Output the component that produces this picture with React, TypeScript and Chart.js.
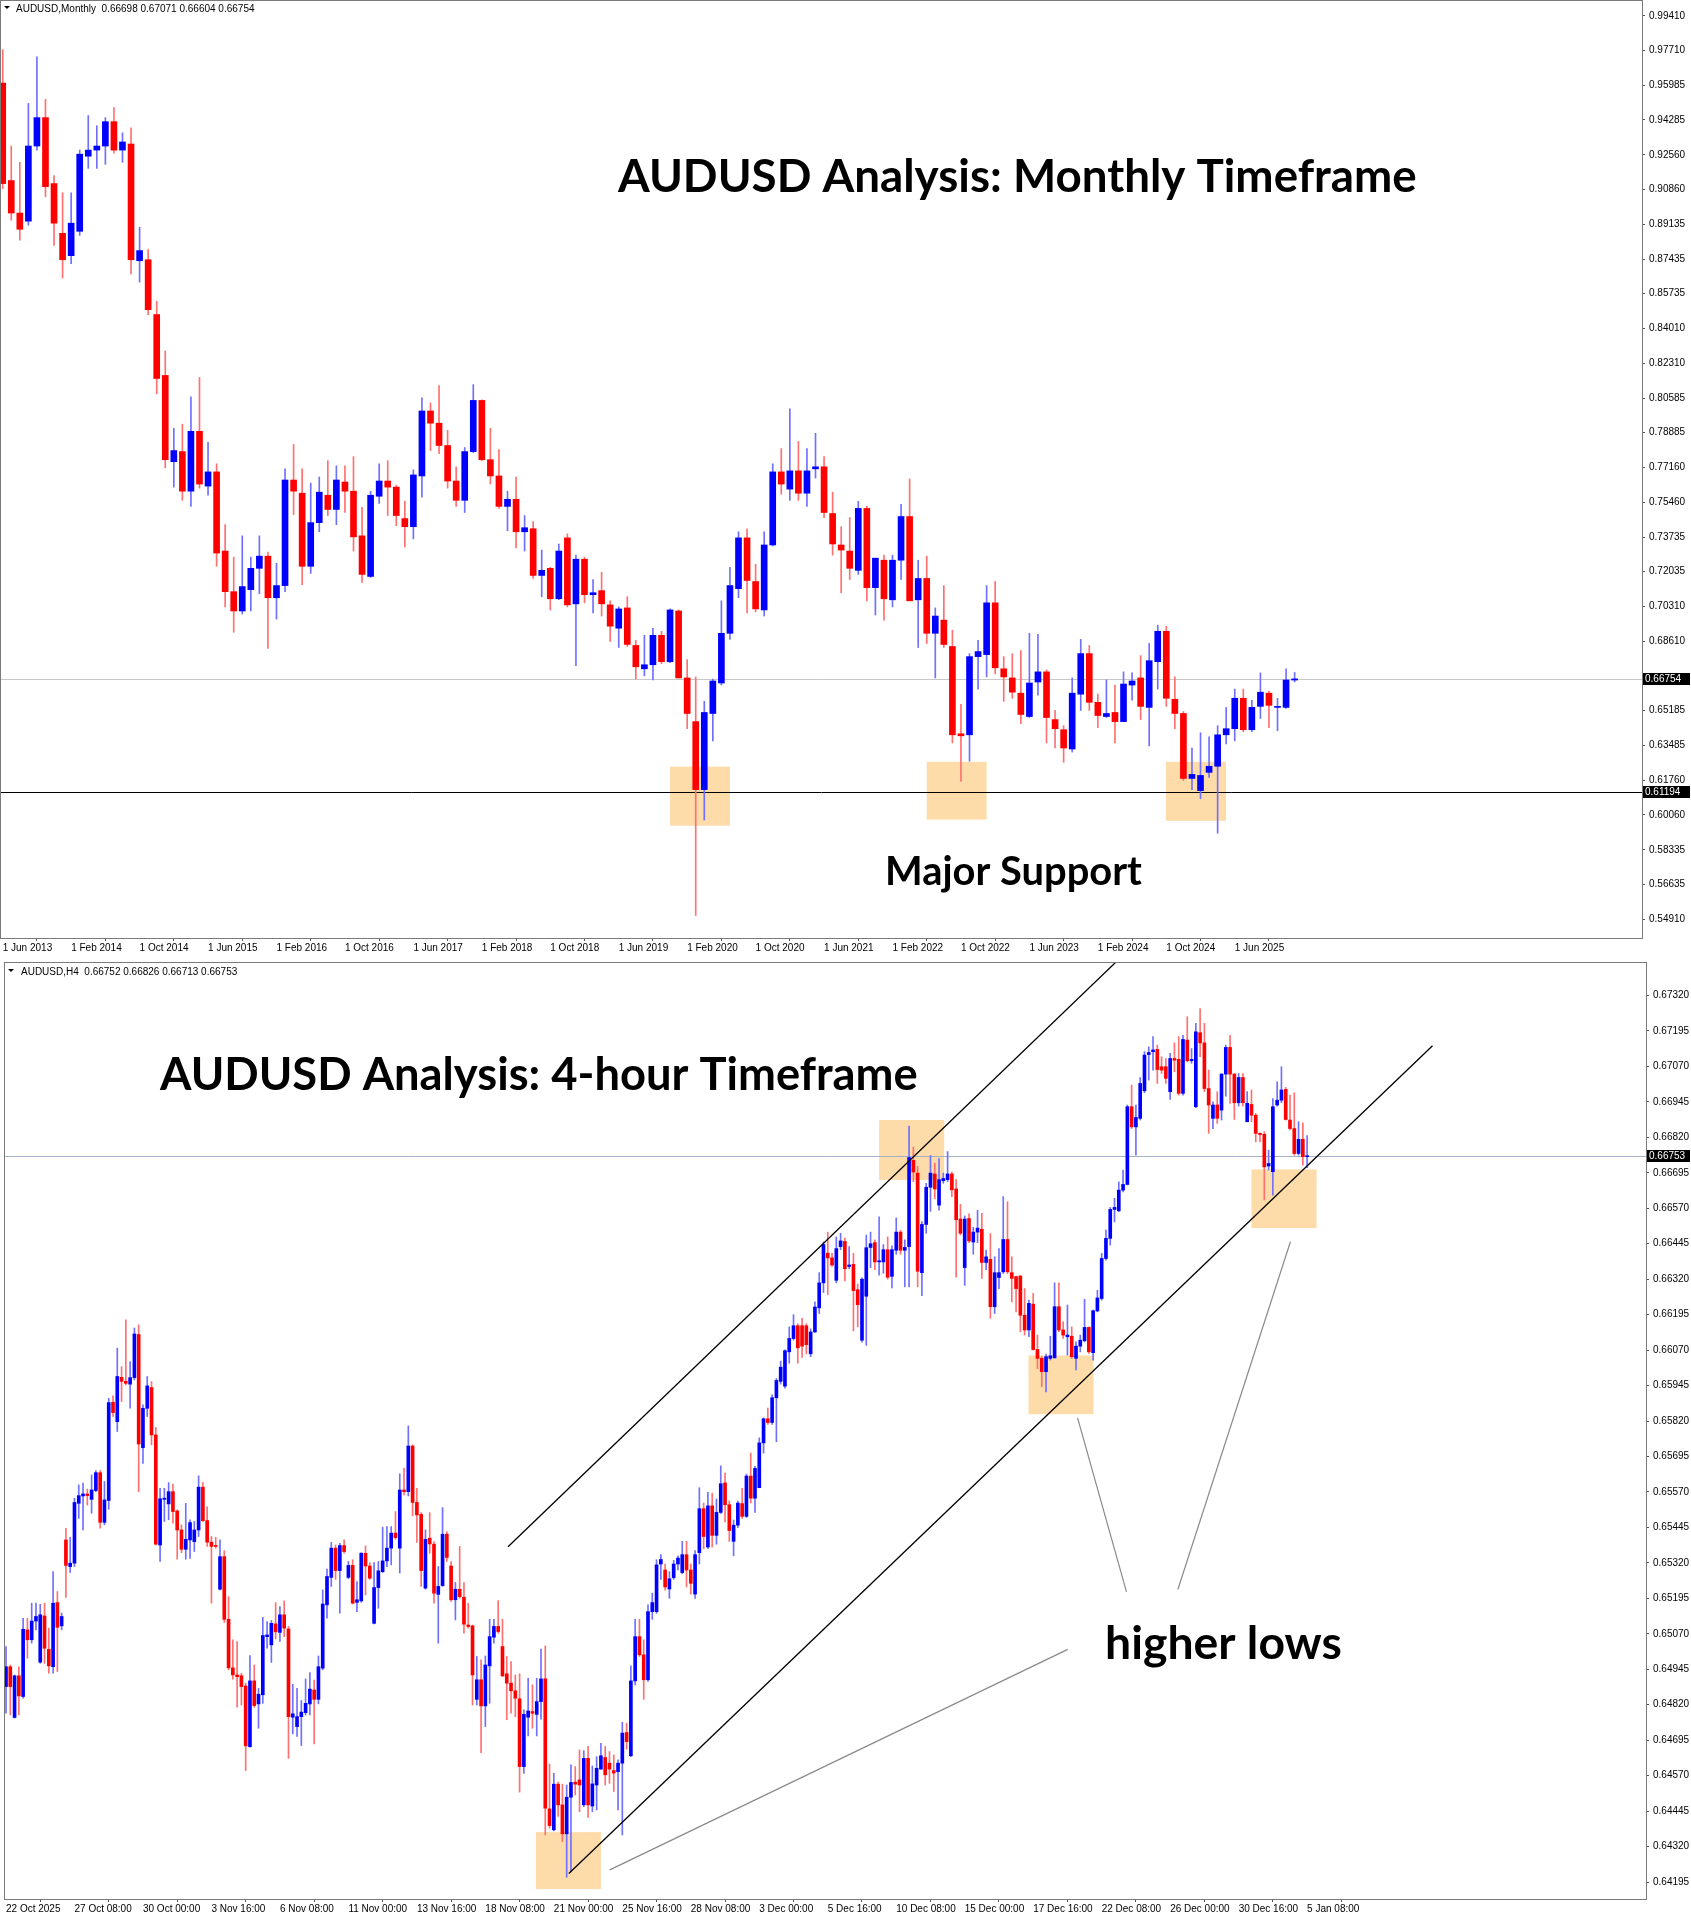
import React, { useEffect, useRef } from 'react';
import { Chart, registerables } from 'chart.js';

Chart.register(...registerables);

// ---------------- Monthly AUDUSD (Jun 2013 .. Jan 2026) ----------------
const monthlyOpen = [
  0.9610, 0.9130, 0.8970, 0.8930, 0.9300, 0.9440, 0.9115, 0.8870, 0.8760, 0.8880,
  0.9250, 0.9280, 0.9300, 0.9420, 0.9280, 0.9310, 0.8735, 0.8740, 0.8470, 0.8170,
  0.7745, 0.7795, 0.7600, 0.7895, 0.7625, 0.7695, 0.7305, 0.7105, 0.7010, 0.7115,
  0.7220, 0.7280, 0.7075, 0.7135, 0.7655, 0.7590, 0.7230, 0.7445, 0.7580, 0.7510,
  0.7645, 0.7600, 0.7380, 0.7180, 0.7575, 0.7650, 0.7620, 0.7465, 0.7425, 0.7675,
  0.7995, 0.7935, 0.7825, 0.7650, 0.7555, 0.7795, 0.8047, 0.7755, 0.7675, 0.7525,
  0.7560, 0.7400, 0.7415, 0.7185, 0.7220, 0.7070, 0.7370, 0.7045, 0.7265, 0.7090,
  0.7110, 0.7040, 0.6925, 0.7025, 0.6840, 0.6725, 0.6745, 0.6890, 0.6760, 0.7010,
  0.6680, 0.6465, 0.6130, 0.6505, 0.6655, 0.6900, 0.7120, 0.7370, 0.7155, 0.7015,
  0.7335, 0.7695, 0.7610, 0.7700, 0.7590, 0.7710, 0.7720, 0.7490, 0.7335, 0.7305,
  0.7210, 0.7515, 0.7125, 0.7260, 0.7065, 0.7260, 0.7475, 0.7065, 0.7170, 0.6900,
  0.6965, 0.6835, 0.6405, 0.6400, 0.6785, 0.6795, 0.7050, 0.6725, 0.6680, 0.6605,
  0.6490, 0.6660, 0.6710, 0.6475, 0.6425, 0.6330, 0.6600, 0.6800, 0.6560, 0.6490,
  0.6510, 0.6465, 0.6645, 0.6680, 0.6535, 0.6760, 0.6910, 0.6575, 0.6505, 0.6185,
  0.6125, 0.6215, 0.6245, 0.6400, 0.6430, 0.6580, 0.6425, 0.6540, 0.6605, 0.6535,
  0.6535, 0.66698,
];
const monthlyHigh = [
  0.9775, 0.9300, 0.9220, 0.9510, 0.9740, 0.9530, 0.9155, 0.9070, 0.9070, 0.9280,
  0.9450, 0.9400, 0.9440, 0.9490, 0.9365, 0.9390, 0.8900, 0.8790, 0.8535, 0.8290,
  0.7910, 0.7930, 0.8065, 0.8160, 0.7840, 0.7735, 0.7435, 0.7275, 0.7380, 0.7275,
  0.7380, 0.7300, 0.7245, 0.7710, 0.7830, 0.7710, 0.7640, 0.7670, 0.7750, 0.7725,
  0.7725, 0.7770, 0.7520, 0.7600, 0.7735, 0.7750, 0.7630, 0.7550, 0.7705, 0.8060,
  0.8035, 0.8120, 0.7900, 0.7720, 0.7815, 0.8125, 0.8050, 0.7910, 0.7805, 0.7600,
  0.7670, 0.7480, 0.7450, 0.7310, 0.7225, 0.7340, 0.7390, 0.7285, 0.7275, 0.7165,
  0.7200, 0.7060, 0.7030, 0.7080, 0.6865, 0.6890, 0.6925, 0.6910, 0.7020, 0.7015,
  0.6770, 0.6685, 0.6565, 0.6675, 0.7060, 0.7225, 0.7400, 0.7415, 0.7240, 0.7400,
  0.7735, 0.7810, 0.8005, 0.7845, 0.7810, 0.7885, 0.7770, 0.7595, 0.7425, 0.7470,
  0.7550, 0.7525, 0.7270, 0.7285, 0.7285, 0.7535, 0.7660, 0.7260, 0.7280, 0.7025,
  0.7135, 0.6915, 0.6550, 0.6800, 0.6865, 0.7135, 0.7155, 0.6785, 0.6800, 0.6815,
  0.6900, 0.6895, 0.6720, 0.6520, 0.6445, 0.6680, 0.6870, 0.6840, 0.6600, 0.6670,
  0.6645, 0.6710, 0.6705, 0.6790, 0.6850, 0.6940, 0.6935, 0.6685, 0.6515, 0.6335,
  0.6410, 0.6390, 0.6445, 0.6535, 0.6625, 0.6625, 0.6570, 0.6705, 0.6615, 0.6580,
  0.6725, 0.67071,
];
const monthlyLow = [
  0.9090, 0.8935, 0.8836, 0.8910, 0.9280, 0.9050, 0.8810, 0.8650, 0.8720, 0.8860,
  0.9190, 0.9190, 0.9210, 0.9265, 0.9220, 0.8670, 0.8630, 0.8470, 0.8080, 0.7715,
  0.7620, 0.7555, 0.7525, 0.7615, 0.7580, 0.7230, 0.7030, 0.6905, 0.6995, 0.7010,
  0.7095, 0.6825, 0.6970, 0.7105, 0.7485, 0.7140, 0.7195, 0.7400, 0.7480, 0.7435,
  0.7495, 0.7305, 0.7150, 0.7175, 0.7540, 0.7480, 0.7430, 0.7325, 0.7365, 0.7570,
  0.7800, 0.7785, 0.7615, 0.7525, 0.7495, 0.7790, 0.7750, 0.7635, 0.7515, 0.7405,
  0.7320, 0.7305, 0.7170, 0.7080, 0.7015, 0.7065, 0.7030, 0.6740, 0.7050, 0.7000,
  0.6985, 0.6860, 0.6830, 0.6835, 0.6675, 0.6690, 0.6670, 0.6750, 0.6755, 0.6680,
  0.6430, 0.5510, 0.5980, 0.6370, 0.6645, 0.6870, 0.7075, 0.7000, 0.7005, 0.6985,
  0.7330, 0.7585, 0.7555, 0.7555, 0.7525, 0.7665, 0.7470, 0.7285, 0.7100, 0.7165,
  0.7190, 0.7060, 0.6990, 0.6965, 0.7030, 0.7165, 0.7060, 0.6830, 0.6850, 0.6680,
  0.6830, 0.6360, 0.6170, 0.6270, 0.6625, 0.6685, 0.6700, 0.6565, 0.6580, 0.6455,
  0.6485, 0.6595, 0.6360, 0.6335, 0.6265, 0.6315, 0.6520, 0.6520, 0.6435, 0.6485,
  0.6360, 0.6465, 0.6570, 0.6475, 0.6345, 0.6625, 0.6540, 0.6430, 0.6175, 0.6130,
  0.6085, 0.6190, 0.5915, 0.6355, 0.6370, 0.6415, 0.6415, 0.6480, 0.6435, 0.6420,
  0.6530, 0.66604,
];
const monthlyClose = [
  0.9115, 0.8970, 0.8890, 0.9300, 0.9440, 0.9100, 0.8920, 0.8740, 0.8920, 0.9260,
  0.9280, 0.9300, 0.9420, 0.9280, 0.9320, 0.8740, 0.8785, 0.8494, 0.8155, 0.7755,
  0.7800, 0.7600, 0.7895, 0.7635, 0.7695, 0.7295, 0.7105, 0.7010, 0.7130, 0.7220,
  0.7280, 0.7075, 0.7135, 0.7655, 0.7600, 0.7230, 0.7445, 0.7595, 0.7510, 0.7655,
  0.7600, 0.7375, 0.7190, 0.7580, 0.7650, 0.7620, 0.7480, 0.7425, 0.7680, 0.7995,
  0.7935, 0.7825, 0.7650, 0.7555, 0.7795, 0.8047, 0.7755, 0.7675, 0.7525, 0.7560,
  0.7400, 0.7420, 0.7185, 0.7210, 0.7070, 0.7305, 0.7040, 0.7265, 0.7090, 0.7100,
  0.7045, 0.6935, 0.7020, 0.6845, 0.6735, 0.6745, 0.6890, 0.6760, 0.7015, 0.6680,
  0.6505, 0.6130, 0.6510, 0.6665, 0.6900, 0.7135, 0.7370, 0.7160, 0.7020, 0.7335,
  0.7695, 0.7635, 0.7700, 0.7590, 0.7700, 0.7720, 0.7495, 0.7340, 0.7310, 0.7220,
  0.7515, 0.7125, 0.7270, 0.7070, 0.7260, 0.7475, 0.7060, 0.7170, 0.6900, 0.6985,
  0.6845, 0.6400, 0.6395, 0.6785, 0.6810, 0.7050, 0.6730, 0.6685, 0.6610, 0.6500,
  0.6655, 0.6710, 0.6485, 0.6430, 0.6335, 0.6605, 0.6800, 0.6560, 0.6495, 0.6505,
  0.6465, 0.6650, 0.6665, 0.6540, 0.6765, 0.6910, 0.6580, 0.6505, 0.6185, 0.6205,
  0.6200, 0.6245, 0.6400, 0.6430, 0.6580, 0.6425, 0.6535, 0.6610, 0.6545, 0.6540,
  0.6670, 0.66754,
];
const monthlyTickIndex = [0, 8, 16, 24, 32, 40, 48, 56, 64, 72, 80, 88, 96, 104, 112, 120, 128, 136, 144];
const monthlyTickLabels = [
  '1 Jun 2013', '1 Feb 2014', '1 Oct 2014', '1 Jun 2015', '1 Feb 2016', '1 Oct 2016', '1 Jun 2017',
  '1 Feb 2018', '1 Oct 2018', '1 Jun 2019', '1 Feb 2020', '1 Oct 2020', '1 Jun 2021', '1 Feb 2022',
  '1 Oct 2022', '1 Jun 2023', '1 Feb 2024', '1 Oct 2024', '1 Jun 2025',
];
const monthlyPriceTicks = [
  0.99410, 0.97710, 0.95985, 0.94285, 0.92560, 0.90860, 0.89135, 0.87435, 0.85735, 0.84010,
  0.82310, 0.80585, 0.78885, 0.77160, 0.75460, 0.73735, 0.72035, 0.70310, 0.68610, 0.65185,
  0.63485, 0.61760, 0.60060, 0.58335, 0.56635, 0.54910,
];
const monthlyCurrent = 0.66754;
const monthlySupport = 0.61194;
// support zones: [startBar, endBar, topPrice, bottomPrice]
const monthlyZones = [
  [78.0, 85.0, 0.62433, 0.59523],
  [108.0, 115.0, 0.62669, 0.59823],
  [135.96, 142.98, 0.62669, 0.59763],
];

// ---------------- H4 AUDUSD (22 Oct 2025 .. 5 Jan 2026) ----------------
const h4Open = [
  0.64884, 0.64954, 0.64775, 0.64922, 0.64849, 0.65084, 0.65049, 0.65115, 0.64970, 0.65133,
  0.65015, 0.64954, 0.65180, 0.65098, 0.65401, 0.65307, 0.65319, 0.65530, 0.65556, 0.65563,
  0.65544, 0.65575, 0.65638, 0.65463, 0.65540, 0.65886, 0.65818, 0.65974, 0.65960, 0.65950,
  0.65973, 0.66125, 0.65726, 0.65865, 0.65938, 0.65771, 0.65383, 0.65544, 0.65528, 0.65571,
  0.65503, 0.65436, 0.65368, 0.65401, 0.65395, 0.65436, 0.65587, 0.65469, 0.65393, 0.65380,
  0.65227, 0.65342, 0.65121, 0.64950, 0.64925, 0.64922, 0.64886, 0.64672, 0.64904, 0.64823,
  0.64855, 0.65060, 0.65031, 0.65105, 0.65075, 0.65137, 0.65087, 0.64776, 0.64743, 0.64778,
  0.64792, 0.64823, 0.64872, 0.64839, 0.64949, 0.65172, 0.65269, 0.65372, 0.65293, 0.65381,
  0.65269, 0.65311, 0.65181, 0.65186, 0.65354, 0.65309, 0.65107, 0.65233, 0.65289, 0.65327,
  0.65372, 0.65425, 0.65372, 0.65577, 0.65571, 0.65732, 0.65533, 0.65491, 0.65231, 0.65407,
  0.65386, 0.65209, 0.65240, 0.65421, 0.65309, 0.65190, 0.65227, 0.65199, 0.65101, 0.65098,
  0.64839, 0.64908, 0.64816, 0.64957, 0.65058, 0.65096, 0.65025, 0.64929, 0.64896, 0.64869,
  0.64841, 0.64602, 0.64776, 0.64796, 0.64786, 0.64831, 0.64911, 0.64453, 0.64379, 0.64540,
  0.64467, 0.64365, 0.64494, 0.64547, 0.64555, 0.64467, 0.64631, 0.64463, 0.64537, 0.64593,
  0.64634, 0.64614, 0.64588, 0.64584, 0.64614, 0.64722, 0.64640, 0.64904, 0.65060, 0.64996,
  0.64908, 0.65148, 0.65148, 0.65316, 0.65295, 0.65228, 0.65268, 0.65316, 0.65286, 0.65349,
  0.65295, 0.65210, 0.65356, 0.65511, 0.65376, 0.65521, 0.65417, 0.65498, 0.65602, 0.65525,
  0.65396, 0.65453, 0.65529, 0.65484, 0.65626, 0.65548, 0.65585, 0.65743, 0.65828, 0.65815,
  0.65902, 0.65960, 0.65943, 0.66064, 0.66111, 0.66156, 0.66156, 0.66156, 0.66057, 0.66134,
  0.66219, 0.66307, 0.66412, 0.66395, 0.66316, 0.66435, 0.66453, 0.66365, 0.66372, 0.66283,
  0.66105, 0.66260, 0.66432, 0.66449, 0.66381, 0.66381, 0.66424, 0.66330, 0.66422, 0.66486,
  0.66422, 0.66435, 0.66739, 0.66694, 0.66343, 0.66513, 0.66644, 0.66691, 0.66581, 0.66667,
  0.66671, 0.66691, 0.66638, 0.66532, 0.66361, 0.66534, 0.66451, 0.66486, 0.66496, 0.66379,
  0.66390, 0.66223, 0.66326, 0.66346, 0.66460, 0.66343, 0.66329, 0.66331, 0.66193, 0.66141,
  0.66232, 0.66072, 0.66041, 0.65994, 0.66041, 0.66043, 0.66223, 0.66141, 0.66117, 0.66119,
  0.66041, 0.66084, 0.66103, 0.66150, 0.66061, 0.66208, 0.66252, 0.66393, 0.66464, 0.66566,
  0.66561, 0.66634, 0.66654, 0.66928, 0.66857, 0.66887, 0.66984, 0.67112, 0.67122, 0.67130,
  0.67069, 0.67069, 0.66981, 0.67098, 0.67095, 0.66975, 0.67163, 0.67090, 0.66928, 0.67189,
  0.67153, 0.66992, 0.66887, 0.66934, 0.66916, 0.67043, 0.67137, 0.67043, 0.66942, 0.67031,
  0.66875, 0.66936, 0.66898, 0.66834, 0.66831, 0.66719, 0.66699, 0.66934, 0.66951, 0.66989,
  0.66881, 0.66851, 0.66763, 0.66813, 0.66752,
];
const h4High = [
  0.65025, 0.64960, 0.64925, 0.64954, 0.65125, 0.65125, 0.65178, 0.65178, 0.65174, 0.65178,
  0.65090, 0.65289, 0.65219, 0.65143, 0.65442, 0.65410, 0.65548, 0.65595, 0.65601, 0.65580,
  0.65630, 0.65645, 0.65645, 0.65607, 0.65900, 0.65909, 0.66077, 0.66012, 0.66177, 0.66030,
  0.66148, 0.66159, 0.65877, 0.65977, 0.65959, 0.65798, 0.65583, 0.65583, 0.65603, 0.65598,
  0.65507, 0.65454, 0.65530, 0.65472, 0.65466, 0.65627, 0.65603, 0.65518, 0.65413, 0.65410,
  0.65401, 0.65363, 0.65201, 0.65049, 0.65043, 0.64931, 0.64896, 0.64993, 0.64960, 0.64878,
  0.65128, 0.65113, 0.65117, 0.65180, 0.65166, 0.65186, 0.65096, 0.64892, 0.64878, 0.64835,
  0.64911, 0.64933, 0.64907, 0.64992, 0.65225, 0.65298, 0.65392, 0.65383, 0.65389, 0.65401,
  0.65325, 0.65331, 0.65254, 0.65356, 0.65380, 0.65321, 0.65321, 0.65325, 0.65446, 0.65448,
  0.65448, 0.65501, 0.65634, 0.65654, 0.65803, 0.65736, 0.65583, 0.65497, 0.65436, 0.65497,
  0.65395, 0.65307, 0.65515, 0.65430, 0.65325, 0.65251, 0.65378, 0.65251, 0.65178, 0.65101,
  0.64990, 0.64978, 0.64992, 0.65121, 0.65121, 0.65187, 0.65121, 0.64990, 0.64972, 0.64925,
  0.64929, 0.64802, 0.64913, 0.64890, 0.64913, 0.65016, 0.65027, 0.64611, 0.64578, 0.64547,
  0.64540, 0.64537, 0.64608, 0.64602, 0.64661, 0.64658, 0.64673, 0.64604, 0.64637, 0.64684,
  0.64673, 0.64655, 0.64643, 0.64626, 0.64758, 0.64755, 0.64957, 0.65121, 0.65121, 0.65049,
  0.65172, 0.65213, 0.65331, 0.65349, 0.65316, 0.65289, 0.65329, 0.65345, 0.65396, 0.65396,
  0.65316, 0.65363, 0.65585, 0.65531, 0.65569, 0.65565, 0.65545, 0.65662, 0.65637, 0.65538,
  0.65471, 0.65538, 0.65583, 0.65633, 0.65707, 0.65660, 0.65761, 0.65831, 0.65866, 0.65912,
  0.65970, 0.66031, 0.66071, 0.66152, 0.66195, 0.66163, 0.66182, 0.66163, 0.66145, 0.66240,
  0.66343, 0.66451, 0.66486, 0.66411, 0.66469, 0.66482, 0.66465, 0.66435, 0.66411, 0.66303,
  0.66325, 0.66476, 0.66486, 0.66459, 0.66540, 0.66442, 0.66469, 0.66438, 0.66536, 0.66492,
  0.66459, 0.66860, 0.66786, 0.66718, 0.66523, 0.66658, 0.66756, 0.66729, 0.66745, 0.66694,
  0.66770, 0.66698, 0.66671, 0.66584, 0.66543, 0.66550, 0.66503, 0.66563, 0.66552, 0.66423,
  0.66481, 0.66399, 0.66428, 0.66611, 0.66593, 0.66399, 0.66331, 0.66334, 0.66287, 0.66246,
  0.66270, 0.66123, 0.66047, 0.66056, 0.66119, 0.66307, 0.66307, 0.66170, 0.66229, 0.66152,
  0.66099, 0.66123, 0.66249, 0.66152, 0.66211, 0.66281, 0.66411, 0.66493, 0.66573, 0.66605,
  0.66663, 0.66705, 0.66934, 0.67004, 0.66934, 0.67031, 0.67122, 0.67139, 0.67175, 0.67145,
  0.67104, 0.67098, 0.67116, 0.67153, 0.67175, 0.67180, 0.67245, 0.67133, 0.67222, 0.67274,
  0.67222, 0.67057, 0.66945, 0.66981, 0.67045, 0.67145, 0.67180, 0.67045, 0.67045, 0.67045,
  0.66981, 0.66987, 0.66904, 0.66836, 0.66840, 0.66775, 0.66957, 0.67016, 0.67069, 0.66996,
  0.66969, 0.66977, 0.66875, 0.66871, 0.66826,
];
const h4Low = [
  0.64790, 0.64784, 0.64773, 0.64784, 0.64843, 0.64984, 0.65037, 0.65084, 0.64966, 0.64966,
  0.64931, 0.64931, 0.64937, 0.65084, 0.65198, 0.65286, 0.65307, 0.65477, 0.65436, 0.65524,
  0.65495, 0.65571, 0.65442, 0.65454, 0.65509, 0.65836, 0.65783, 0.65889, 0.65947, 0.65865,
  0.65965, 0.65571, 0.65671, 0.65836, 0.65736, 0.65383, 0.65325, 0.65466, 0.65472, 0.65460,
  0.65333, 0.65356, 0.65333, 0.65336, 0.65360, 0.65413, 0.65466, 0.65378, 0.65178, 0.65372,
  0.65225, 0.65110, 0.64943, 0.64910, 0.64811, 0.64819, 0.64588, 0.64670, 0.64811, 0.64737,
  0.64825, 0.65019, 0.64969, 0.65052, 0.65043, 0.65060, 0.64631, 0.64717, 0.64708, 0.64676,
  0.64784, 0.64784, 0.64682, 0.64823, 0.64943, 0.65125, 0.65237, 0.65262, 0.65143, 0.65354,
  0.65264, 0.65175, 0.65148, 0.65181, 0.65207, 0.65262, 0.65105, 0.65160, 0.65286, 0.65307,
  0.65313, 0.65403, 0.65284, 0.65560, 0.65556, 0.65486, 0.65392, 0.65237, 0.65227, 0.65354,
  0.65178, 0.65037, 0.65237, 0.65325, 0.65184, 0.65119, 0.65195, 0.65072, 0.65090, 0.64819,
  0.64819, 0.64651, 0.64743, 0.64825, 0.65037, 0.65072, 0.64919, 0.64767, 0.64790, 0.64778,
  0.64512, 0.64578, 0.64710, 0.64737, 0.64710, 0.64769, 0.64361, 0.64385, 0.64375, 0.64426,
  0.64338, 0.64212, 0.64232, 0.64502, 0.64443, 0.64461, 0.64423, 0.64443, 0.64449, 0.64593,
  0.64537, 0.64543, 0.64514, 0.64449, 0.64361, 0.64663, 0.64637, 0.64890, 0.64990, 0.64839,
  0.64902, 0.65121, 0.65142, 0.65262, 0.65224, 0.65195, 0.65262, 0.65295, 0.65282, 0.65235,
  0.65210, 0.65195, 0.65316, 0.65370, 0.65370, 0.65376, 0.65386, 0.65494, 0.65464, 0.65396,
  0.65345, 0.65444, 0.65477, 0.65480, 0.65531, 0.65498, 0.65585, 0.65707, 0.65808, 0.65808,
  0.65747, 0.65950, 0.65936, 0.66024, 0.66105, 0.66024, 0.66044, 0.66057, 0.66047, 0.66132,
  0.66199, 0.66273, 0.66266, 0.66365, 0.66307, 0.66424, 0.66314, 0.66357, 0.66138, 0.66152,
  0.66098, 0.66087, 0.66361, 0.66354, 0.66334, 0.66341, 0.66320, 0.66289, 0.66408, 0.66408,
  0.66293, 0.66293, 0.66664, 0.66293, 0.66262, 0.66482, 0.66559, 0.66604, 0.66563, 0.66658,
  0.66664, 0.66611, 0.66327, 0.66476, 0.66298, 0.66449, 0.66408, 0.66449, 0.66323, 0.66354,
  0.66182, 0.66199, 0.66287, 0.66340, 0.66340, 0.66240, 0.66205, 0.66135, 0.66123, 0.66117,
  0.66070, 0.66005, 0.65941, 0.65923, 0.66035, 0.66041, 0.66135, 0.66111, 0.66052, 0.66041,
  0.66000, 0.66064, 0.66099, 0.66058, 0.66035, 0.66205, 0.66246, 0.66387, 0.66440, 0.66522,
  0.66558, 0.66628, 0.66652, 0.66851, 0.66757, 0.66881, 0.66977, 0.67022, 0.67057, 0.67010,
  0.67045, 0.67010, 0.66954, 0.67051, 0.66969, 0.66969, 0.67086, 0.67081, 0.66925, 0.67104,
  0.66981, 0.66834, 0.66851, 0.66869, 0.66881, 0.66965, 0.66940, 0.66883, 0.66930, 0.66930,
  0.66875, 0.66875, 0.66804, 0.66804, 0.66599, 0.66705, 0.66616, 0.66930, 0.66942, 0.66881,
  0.66846, 0.66757, 0.66757, 0.66722, 0.66713,
];
const h4Close = [
  0.64954, 0.64884, 0.64922, 0.64851, 0.65086, 0.65049, 0.65115, 0.65131, 0.65137, 0.65019,
  0.64957, 0.65178, 0.65093, 0.65131, 0.65311, 0.65319, 0.65533, 0.65557, 0.65563, 0.65557,
  0.65577, 0.65638, 0.65463, 0.65542, 0.65885, 0.65850, 0.65977, 0.65960, 0.65953, 0.65973,
  0.66127, 0.65739, 0.65865, 0.65944, 0.65771, 0.65386, 0.65546, 0.65548, 0.65571, 0.65501,
  0.65436, 0.65368, 0.65403, 0.65462, 0.65436, 0.65587, 0.65469, 0.65393, 0.65378, 0.65378,
  0.65342, 0.65121, 0.64950, 0.64925, 0.64919, 0.64884, 0.64675, 0.64904, 0.64817, 0.64857,
  0.65064, 0.65066, 0.65107, 0.65077, 0.65137, 0.65090, 0.64778, 0.64788, 0.64778, 0.64794,
  0.64825, 0.64875, 0.64839, 0.64954, 0.65175, 0.65272, 0.65372, 0.65293, 0.65381, 0.65360,
  0.65311, 0.65178, 0.65190, 0.65354, 0.65309, 0.65266, 0.65233, 0.65292, 0.65327, 0.65372,
  0.65425, 0.65409, 0.65577, 0.65571, 0.65732, 0.65533, 0.65489, 0.65293, 0.65403, 0.65387,
  0.65213, 0.65237, 0.65421, 0.65339, 0.65190, 0.65227, 0.65201, 0.65104, 0.65096, 0.64925,
  0.64908, 0.64816, 0.64960, 0.65060, 0.65096, 0.65078, 0.64922, 0.64896, 0.64869, 0.64843,
  0.64602, 0.64786, 0.64798, 0.64790, 0.64831, 0.64911, 0.64455, 0.64394, 0.64540, 0.64467,
  0.64365, 0.64494, 0.64546, 0.64540, 0.64537, 0.64631, 0.64467, 0.64541, 0.64596, 0.64640,
  0.64573, 0.64593, 0.64579, 0.64614, 0.64720, 0.64690, 0.64904, 0.65060, 0.64996, 0.64908,
  0.65148, 0.65180, 0.65313, 0.65332, 0.65235, 0.65264, 0.65316, 0.65337, 0.65349, 0.65295,
  0.65248, 0.65349, 0.65511, 0.65413, 0.65521, 0.65417, 0.65498, 0.65599, 0.65525, 0.65434,
  0.65453, 0.65531, 0.65484, 0.65626, 0.65548, 0.65653, 0.65743, 0.65828, 0.65815, 0.65902,
  0.65963, 0.66010, 0.66068, 0.66111, 0.66156, 0.66078, 0.66084, 0.66089, 0.66134, 0.66222,
  0.66307, 0.66442, 0.66395, 0.66370, 0.66428, 0.66455, 0.66357, 0.66370, 0.66280, 0.66230,
  0.66320, 0.66431, 0.66445, 0.66381, 0.66385, 0.66424, 0.66327, 0.66424, 0.66486, 0.66422,
  0.66432, 0.66749, 0.66698, 0.66348, 0.66513, 0.66644, 0.66694, 0.66638, 0.66671, 0.66675,
  0.66691, 0.66635, 0.66530, 0.66482, 0.66532, 0.66455, 0.66486, 0.66500, 0.66379, 0.66399,
  0.66223, 0.66343, 0.66343, 0.66460, 0.66346, 0.66323, 0.66287, 0.66193, 0.66141, 0.66235,
  0.66072, 0.66041, 0.65994, 0.66047, 0.66050, 0.66223, 0.66141, 0.66123, 0.66123, 0.66047,
  0.66084, 0.66105, 0.66150, 0.66064, 0.66209, 0.66254, 0.66393, 0.66464, 0.66566, 0.66573,
  0.66634, 0.66654, 0.66928, 0.66857, 0.66890, 0.67010, 0.67110, 0.67119, 0.67128, 0.67059,
  0.67057, 0.67028, 0.67098, 0.67092, 0.66975, 0.67165, 0.67090, 0.67095, 0.67192, 0.67153,
  0.66992, 0.66934, 0.66934, 0.66887, 0.67043, 0.67137, 0.67043, 0.66942, 0.67031, 0.66942,
  0.66940, 0.66898, 0.66834, 0.66830, 0.66716, 0.66728, 0.66928, 0.66951, 0.66987, 0.66883,
  0.66851, 0.66763, 0.66813, 0.66752, 0.66753,
];
const h4TickIndex = [0, 16, 32, 48, 64, 80, 96, 112, 128, 144, 160, 176, 192, 208, 224, 240, 256, 272, 288, 304];
const h4TickLabels = [
  '22 Oct 2025', '27 Oct 08:00', '30 Oct 00:00', '3 Nov 16:00', '6 Nov 08:00', '11 Nov 00:00',
  '13 Nov 16:00', '18 Nov 08:00', '21 Nov 00:00', '25 Nov 16:00', '28 Nov 08:00', '3 Dec 00:00',
  '5 Dec 16:00', '10 Dec 08:00', '15 Dec 00:00', '17 Dec 16:00', '22 Dec 08:00', '26 Dec 00:00',
  '30 Dec 16:00', '5 Jan 08:00',
];
const h4PriceTicks = [
  0.67320, 0.67195, 0.67070, 0.66945, 0.66820, 0.66695, 0.66570, 0.66445, 0.66320, 0.66195,
  0.66070, 0.65945, 0.65820, 0.65695, 0.65570, 0.65445, 0.65320, 0.65195, 0.65070, 0.64945,
  0.64820, 0.64695, 0.64570, 0.64445, 0.64320, 0.64195,
];
const h4Current = 0.66753;
// zones: [startBar, endBar, topPrice, bottomPrice]
const h4Zones = [
  [123.8, 139.0, 0.64371, 0.64170],
  [204.0, 219.2, 0.66881, 0.66670],
  [238.9, 254.1, 0.66051, 0.65844],
  [291.0, 306.2, 0.66707, 0.66500],
];
// trend channel: [bar0, price0, bar1, price1]
const h4ChannelUpper = [117.3, 0.65377, 300.0, 0.68028];
const h4ChannelLower = [131.5, 0.64225, 333.3, 0.67143];
// "higher lows" pointer lines
const h4Pointers = [
  [141.07, 0.64238, 248.08, 0.65015],
  [250.37, 0.65831, 261.8, 0.65218],
  [300.1, 0.66452, 273.8, 0.65226],
];

// ---------------- drawing ----------------
const TICK_FONT = '"Liberation Sans", Arial, sans-serif';
const TITLE_FONT = 'Lato, "Open Sans", sans-serif';
const BULL = '#0000ff';
const BEAR = '#ff0000';
const BULL_WICK = '#7070ff';
const BEAR_WICK = '#ff7070';
const ZONE = '#fddca9';

type Txt = { text: string; left: number; right: number; baseline: number };

interface PanelCfg {
  open: number[]; high: number[]; low: number[]; close: number[];
  bodyWidth: number;
  xMin: number; xMax: number; yMin: number; yMax: number;
  xTicks: number[]; xLabels: string[]; yTicks: number[];
  padLeft: number; padTop: number; yAxisWidth: number; xAxisHeight: number; yLabelPad: number;
  zones: number[][];
  hlines: { value: number; color: string }[];
  segments: { pts: number[]; color: string; width: number }[];
  tags: { value: number }[];
  header: { text: string; triX: number; triY: number; textX: number; baseline: number };
  titles: Txt[];
}

function fitText(ctx: CanvasRenderingContext2D, t: Txt) {
  ctx.font = `bold 100px ${TITLE_FONT}`;
  const w = ctx.measureText(t.text).width;
  const size = (100 * (t.right - t.left)) / w;
  ctx.font = `bold ${size}px ${TITLE_FONT}`;
  ctx.fillStyle = '#000';
  ctx.textAlign = 'left';
  ctx.textBaseline = 'alphabetic';
  ctx.fillText(t.text, t.left, t.baseline);
}

function zeroPad(s: any) {
  s.paddingTop = 0;
  s.paddingBottom = 0;
  s.paddingLeft = 0;
  s.paddingRight = 0;
}

function makeChart(canvas: HTMLCanvasElement, p: PanelCfg) {
  const n = p.open.length;
  const idx = Array.from({ length: n }, (_, i) => i);
  const up = idx.map((i) => p.close[i] >= p.open[i]);

  const overlay = {
    id: 'overlay',
    beforeDatasetsDraw(chart: any) {
      const { ctx, chartArea: a } = chart;
      const xs = chart.scales.x, ys = chart.scales.y;
      ctx.save();
      ctx.beginPath();
      ctx.rect(a.left, a.top, a.right - a.left, a.bottom - a.top);
      ctx.clip();
      ctx.fillStyle = ZONE;
      for (const z of p.zones) {
        const x0 = xs.getPixelForValue(z[0]), x1 = xs.getPixelForValue(z[1]);
        const y0 = ys.getPixelForValue(z[2]), y1 = ys.getPixelForValue(z[3]);
        ctx.fillRect(Math.min(x0, x1), Math.min(y0, y1), Math.abs(x1 - x0), Math.abs(y1 - y0));
      }
      for (const h of p.hlines) {
        const py = Math.round(ys.getPixelForValue(h.value)) + 0.5;
        ctx.strokeStyle = h.color;
        ctx.lineWidth = 1;
        ctx.beginPath();
        ctx.moveTo(a.left, py);
        ctx.lineTo(a.right, py);
        ctx.stroke();
      }
      ctx.restore();
    },
    afterDatasetsDraw(chart: any) {
      const { ctx, chartArea: a } = chart;
      const xs = chart.scales.x, ys = chart.scales.y;
      ctx.save();
      ctx.beginPath();
      ctx.rect(a.left, a.top, a.right - a.left, a.bottom - a.top);
      ctx.clip();
      for (const s of p.segments) {
        ctx.strokeStyle = s.color;
        ctx.lineWidth = s.width;
        ctx.beginPath();
        ctx.moveTo(xs.getPixelForValue(s.pts[0]), ys.getPixelForValue(s.pts[1]));
        ctx.lineTo(xs.getPixelForValue(s.pts[2]), ys.getPixelForValue(s.pts[3]));
        ctx.stroke();
      }
      ctx.restore();
    },
    afterDraw(chart: any) {
      const { ctx, chartArea: a } = chart;
      const ys = chart.scales.y;
      ctx.save();
      // frame
      ctx.strokeStyle = '#7a7a7a';
      ctx.lineWidth = 1;
      ctx.strokeRect(a.left - 0.5, a.top - 0.5, a.right - a.left + 1, a.bottom - a.top + 1);
      // price tags
      ctx.font = `10px ${TICK_FONT}`;
      ctx.textAlign = 'left';
      ctx.textBaseline = 'middle';
      for (const t of p.tags) {
        const py = Math.round(ys.getPixelForValue(t.value));
        ctx.fillStyle = '#000';
        ctx.fillRect(a.right + 1, py - 6, chart.width - a.right - 2, 12);
        ctx.fillStyle = '#fff';
        ctx.fillText(t.value.toFixed(5), a.right + 3, py + 0.5);
      }
      // header
      const h = p.header;
      ctx.fillStyle = '#000';
      ctx.beginPath();
      ctx.moveTo(h.triX, h.triY);
      ctx.lineTo(h.triX + 6, h.triY);
      ctx.lineTo(h.triX + 3, h.triY + 3);
      ctx.closePath();
      ctx.fill();
      ctx.textBaseline = 'alphabetic';
      ctx.font = `10px ${TICK_FONT}`;
      ctx.fillText(h.text, h.textX, h.baseline);
      // annotations
      for (const t of p.titles) fitText(ctx, t);
      ctx.restore();
    },
  };

  return new Chart(canvas, {
    type: 'bar',
    data: {
      datasets: [
        {
          label: 'body',
          data: idx.map((i) => ({ x: i, y: [p.open[i], p.close[i]] })) as any,
          backgroundColor: up.map((u) => (u ? BULL : BEAR)),
          barThickness: p.bodyWidth,
          minBarLength: 1,
          grouped: false,
          borderWidth: 0,
          order: 0,
        } as any,
        {
          label: 'wick',
          data: idx.map((i) => ({ x: i, y: [p.low[i], p.high[i]] })) as any,
          backgroundColor: up.map((u) => (u ? BULL_WICK : BEAR_WICK)),
          barThickness: 1,
          grouped: false,
          borderWidth: 0,
          order: 1,
        } as any,
      ],
    },
    options: {
      responsive: false,
      devicePixelRatio: 1,
      animation: false,
      events: [],
      layout: { padding: { left: p.padLeft, top: p.padTop, right: 0, bottom: 0 } },
      plugins: { legend: { display: false }, tooltip: { enabled: false }, title: { display: false } },
      scales: {
        x: {
          type: 'linear',
          min: p.xMin,
          max: p.xMax,
          offset: false,
          border: { display: false },
          grid: { drawOnChartArea: false, drawTicks: true, tickLength: 3, color: '#555' },
          ticks: {
            autoSkip: false,
            maxRotation: 0,
            minRotation: 0,
            align: 'start',
            padding: 1,
            color: '#000',
            font: { family: TICK_FONT, size: 10 },
            callback: (_v: any, i: number) => p.xLabels[i] ?? '',
          },
          afterBuildTicks: (s: any) => {
            s.ticks = p.xTicks.map((v) => ({ value: v }));
          },
          afterFit: (s: any) => {
            s.height = p.xAxisHeight;
            zeroPad(s);
          },
        },
        y: {
          type: 'linear',
          position: 'right',
          min: p.yMin,
          max: p.yMax,
          border: { display: false },
          grid: { drawOnChartArea: false, drawTicks: true, tickLength: 3, color: '#555' },
          ticks: {
            autoSkip: false,
            padding: p.yLabelPad,
            color: '#000',
            font: { family: TICK_FONT, size: 10 },
            callback: (v: any) => Number(v).toFixed(5),
          },
          afterBuildTicks: (s: any) => {
            s.ticks = p.yTicks.map((v) => ({ value: v }));
          },
          afterFit: (s: any) => {
            s.width = p.yAxisWidth;
            zeroPad(s);
          },
        },
      } as any,
    },
    plugins: [overlay],
  } as any);
}

export default function App() {
  const topRef = useRef<HTMLCanvasElement>(null);
  const botRef = useRef<HTMLCanvasElement>(null);

  useEffect(() => {
    document.body.style.margin = '0';
    const top = makeChart(topRef.current!, {
      open: monthlyOpen, high: monthlyHigh, low: monthlyLow, close: monthlyClose,
      bodyWidth: 6,
      xMin: -0.199, xMax: 191.6, yMin: 0.539913, yMax: 1.001439,
      xTicks: monthlyTickIndex, xLabels: monthlyTickLabels, yTicks: monthlyPriceTicks,
      padLeft: 1, padTop: 1, yAxisWidth: 49, xAxisHeight: 22, yLabelPad: 4,
      zones: monthlyZones,
      hlines: [
        { value: monthlyCurrent, color: '#c8c8c8' },
        { value: monthlySupport, color: '#000000' },
      ],
      segments: [],
      tags: [{ value: monthlyCurrent }, { value: monthlySupport }],
      header: { text: 'AUDUSD,Monthly  0.66698 0.67071 0.66604 0.66754', triX: 4, triY: 6, textX: 16, baseline: 12 },
      titles: [
        { text: 'AUDUSD Analysis: Monthly Timeframe', left: 618, right: 1417, baseline: 192 },
        { text: 'Major Support', left: 885, right: 1142, baseline: 885 },
      ],
    });
    const bot = makeChart(botRef.current!, {
      open: h4Open, high: h4High, low: h4Low, close: h4Close,
      bodyWidth: 3,
      xMin: -0.234, xMax: 383.18, yMin: 0.641352, yMax: 0.674346,
      xTicks: h4TickIndex, xLabels: h4TickLabels, yTicks: h4PriceTicks,
      padLeft: 5, padTop: 3, yAxisWidth: 45, xAxisHeight: 21, yLabelPad: 4,
      zones: h4Zones,
      hlines: [{ value: h4Current, color: '#a8b0c8' }],
      segments: [
        { pts: h4ChannelUpper, color: '#000', width: 1.3 },
        { pts: h4ChannelLower, color: '#000', width: 1.3 },
        ...h4Pointers.map((pt) => ({ pts: pt, color: '#8a8a8a', width: 1.2 })),
      ],
      tags: [{ value: h4Current }],
      header: { text: 'AUDUSD,H4  0.66752 0.66826 0.66713 0.66753', triX: 8, triY: 9, textX: 21, baseline: 15 },
      titles: [
        { text: 'AUDUSD Analysis: 4-hour Timeframe', left: 160, right: 918, baseline: 130 },
        { text: 'higher lows', left: 1105, right: 1342, baseline: 699 },
      ],
    });
    return () => {
      top.destroy();
      bot.destroy();
    };
  }, []);

  return (
    <div style={{ position: 'absolute', left: 0, top: 0, width: 1691, height: 1920, background: '#fff' }}>
      <canvas ref={topRef} width={1691} height={960} style={{ position: 'absolute', left: 0, top: 0, width: 1691, height: 960 }} />
      <canvas ref={botRef} width={1691} height={960} style={{ position: 'absolute', left: 0, top: 960, width: 1691, height: 960 }} />
    </div>
  );
}
